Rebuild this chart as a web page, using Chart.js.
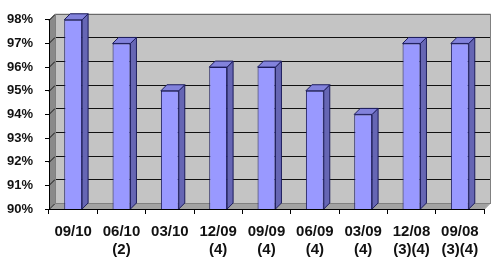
<!DOCTYPE html>
<html>
<head>
<meta charset="utf-8">
<script src="https://cdn.jsdelivr.net/npm/chart.js@4"></script>
<style>
  html, body { margin: 0; padding: 0; background: #fff; }
  #wrap { width: 500px; height: 266px; }
</style>
</head>
<body>
<div id="wrap"><canvas id="myChart"></canvas></div>
<script>
const labels = [['09/10'], ['06/10', '(2)'], ['03/10'], ['12/09', '(4)'], ['09/09', '(4)'],
                ['06/09', '(4)'], ['03/09', '(4)'], ['12/08', '(3)(4)'], ['09/08', '(3)(4)']];
const values = [98, 97, 95, 96, 96, 95, 94, 97, 97];
const yTicks = [90, 91, 92, 93, 94, 95, 96, 97, 98];

const DX = 6, DY = 6;

// back wall, side wall, floor and the wall gridlines
const walls = {
    id: 'walls',
    beforeDraw(chart) {
        const c = chart.ctx, a = chart.chartArea, y = chart.scales.y;
        const L = a.left, R = a.right, T = a.top, B = a.bottom;
        c.save();
        c.fillStyle = '#c4c4c4';
        c.fillRect(L + DX, T - DY, R - L, B - T);
        c.fillStyle = '#8a8a8a';
        c.beginPath();
        c.moveTo(L, T); c.lineTo(L + DX, T - DY); c.lineTo(L + DX, B - DY); c.lineTo(L, B);
        c.closePath(); c.fill();
        c.fillStyle = '#a2a2a2';
        c.beginPath();
        c.moveTo(L, B); c.lineTo(L + DX, B - DY); c.lineTo(R + DX, B - DY); c.lineTo(R, B);
        c.closePath(); c.fill();
        c.strokeStyle = '#111';
        c.lineWidth = 1;
        yTicks.forEach(v => {
            const py = Math.round(y.getPixelForValue(v)) + 0.5;
            c.beginPath();
            c.moveTo(L, py); c.lineTo(L + DX, py - DY); c.lineTo(R + DX, py - DY);
            c.stroke();
        });
        c.strokeStyle = '#808080';
        c.strokeRect(L + DX + 0.5, T - DY + 0.5, R - L, B - T);
        c.beginPath();
        c.moveTo(R + 0.5, B); c.lineTo(R + DX + 0.5, B - DY);
        c.stroke();
        c.restore();
    }
};

// side and top faces of each bar
const bars3d = {
    id: 'bars3d',
    afterDatasetsDraw(chart) {
        const c = chart.ctx;
        const bottom = chart.chartArea.bottom;
        c.save();
        c.strokeStyle = '#1c1c5c';
        c.lineWidth = 1;
        chart.getDatasetMeta(0).data.forEach(b => {
            const l = b.x - b.width / 2, r = b.x + b.width / 2, t = b.y;
            const bs = Math.min(b.base, bottom);
            c.fillStyle = '#6666b4';
            c.beginPath();
            c.moveTo(r, t); c.lineTo(r + DX, t - DY); c.lineTo(r + DX, bs - DY); c.lineTo(r, bs);
            c.closePath(); c.fill(); c.stroke();
            c.fillStyle = '#8282dc';
            c.beginPath();
            c.moveTo(l, t); c.lineTo(l + DX, t - DY); c.lineTo(r + DX, t - DY); c.lineTo(r, t);
            c.closePath(); c.fill(); c.stroke();
        });
        c.restore();
    }
};

const ctx = document.getElementById('myChart').getContext('2d');
const myChart = new Chart(ctx, {
    type: 'bar',
    data: {
        labels: labels,
        datasets: [{
            data: values,
            backgroundColor: '#9999ff',
            borderColor: '#1c1c5c',
            borderWidth: 1,
            barPercentage: 0.37,
            categoryPercentage: 1
        }]
    },
    options: {
        responsive: true,
        maintainAspectRatio: false,
        animation: false,
        layout: { padding: { top: 18, right: 16, left: 0, bottom: 0 } },
        plugins: { legend: { display: false }, tooltip: { enabled: false } },
        scales: {
            x: {
                offset: true,
                grid: { drawOnChartArea: false, color: '#000', tickLength: 5, offset: true },
                border: { color: '#000' },
                ticks: {
                    color: '#111', padding: 9, maxRotation: 0, autoSkip: false,
                    font: { family: 'Liberation Sans, Arial', size: 15, weight: 'bold', lineHeight: 1.2 }
                },
                afterFit(s) { s.height = 57; }
            },
            y: {
                min: 90, max: 98,
                grid: { drawOnChartArea: false, color: '#000', tickLength: 4 },
                border: { color: '#000' },
                ticks: {
                    stepSize: 1, color: '#111', padding: 12,
                    font: { family: 'Liberation Sans, Arial', size: 13, weight: 'bold' },
                    callback: v => v + '%'
                },
                afterFit(s) { s.width = 49; }
            }
        }
    },
    plugins: [walls, bars3d]
});
</script>
</body>
</html>
